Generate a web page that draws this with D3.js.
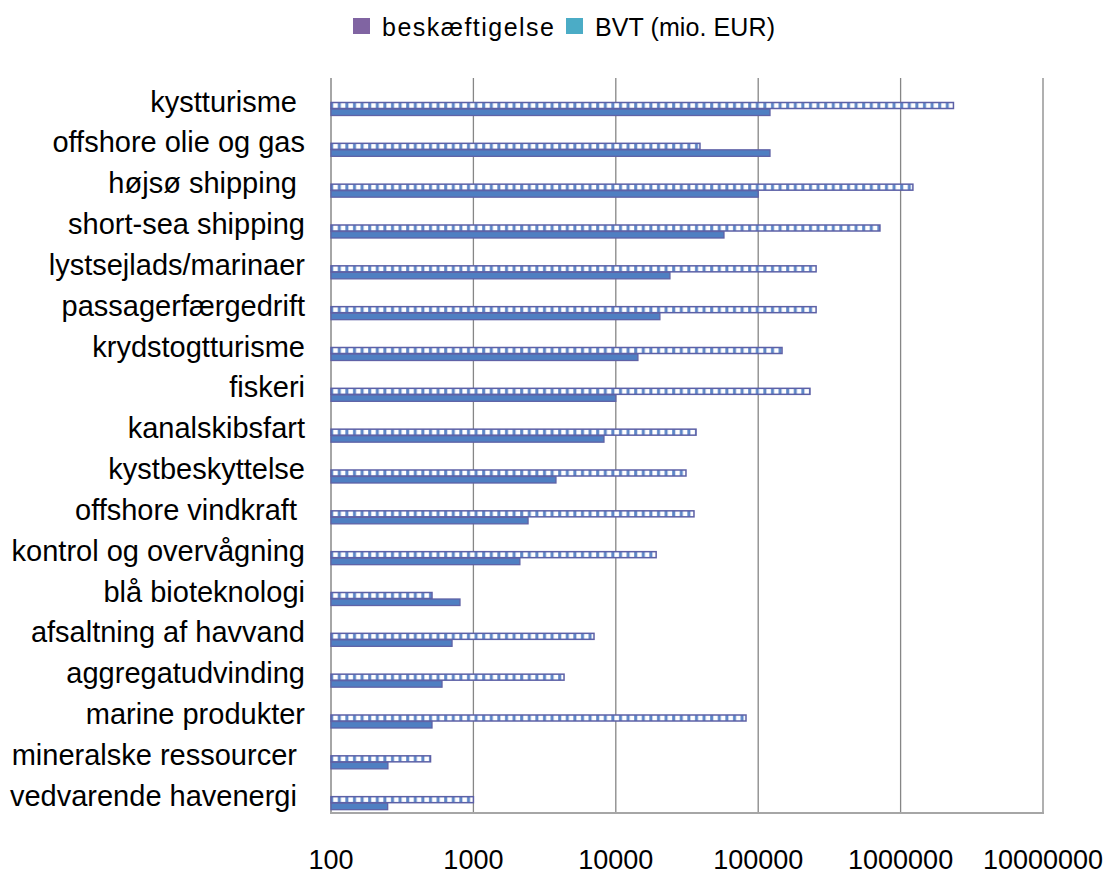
<!DOCTYPE html>
<html>
<head>
<meta charset="utf-8">
<script src="https://cdn.jsdelivr.net/npm/d3@7"></script>
<style>
  body { margin: 0; background: #fff; }
  svg text { font-family: "Liberation Sans", Arial, sans-serif; white-space: pre; fill: #000; }
</style>
</head>
<body>
<div class="chart"></div>
<script>
var categories = [
  "kystturisme ", "offshore olie og gas", "højsø shipping ", "short-sea shipping",
  "lystsejlads/marinaer", "passagerfærgedrift", "krydstogtturisme", "fiskeri",
  "kanalskibsfart", "kystbeskyttelse", "offshore vindkraft ", "kontrol og overvågning",
  "blå bioteknologi", "afsaltning af havvand", "aggregatudvinding", "marine produkter",
  "mineralske ressourcer ", "vedvarende havenergi "
];

// beskæftigelse (hatched bars)
var beskaeftigelse = [
  2350000, 39000, 1220000, 716000, 255000, 255000, 147000, 231000, 36600,
  31100, 35400, 19200, 512, 7030, 4330, 82100, 500, 1000
];

// BVT i mio. EUR (solid bars)
var bvt = [
  121000, 121000, 100000, 57500, 24000, 20400, 14300, 10000, 8260,
  3800, 2420, 2120, 805, 708, 602, 512, 251, 250
];

var seriesNames = ["beskæftigelse", "BVT (mio. EUR)"];
var legendColors = ["#8064A2", "#4BACC6"];
var tickValues = [100, 1000, 10000, 100000, 1000000, 10000000];

var width = 1110,
    height = 876;

var svg = d3.select(".chart").append("svg")
    .attr("width", width)
    .attr("height", height);

var x = d3.scaleLog()
    .domain([100, 10000000])
    .range([331, 1043]);

var y = d3.scaleBand()
    .domain(categories)
    .range([78, 813]);

var ySub = d3.scaleBand()
    .domain(seriesNames)
    .range([24.5, 37.5]);

// hatch pattern for the employment bars
var defs = svg.append("defs");
var pat = defs.append("pattern")
    .attr("id", "hatch")
    .attr("patternUnits", "userSpaceOnUse")
    .attr("x", 331)
    .attr("y", 0)
    .attr("width", 7.6)
    .attr("height", 876);
pat.append("rect")
    .attr("width", 7.6)
    .attr("height", 876)
    .attr("fill", "#5d86c8");
pat.append("rect")
    .attr("x", 2.2)
    .attr("width", 4.6)
    .attr("height", 876)
    .attr("fill", "#ffffff");

// gridlines
svg.append("g")
    .attr("class", "grid")
    .selectAll("line")
    .data(tickValues.slice(1))
    .enter()
    .append("line")
    .attr("x1", function(d){ return x(d); })
    .attr("x2", function(d){ return x(d); })
    .attr("y1", 78)
    .attr("y2", 813)
    .attr("stroke", "#868686")
    .attr("stroke-width", 1.3);

// axis lines
svg.append("line")
    .attr("x1", 331).attr("x2", 331)
    .attr("y1", 78).attr("y2", 814)
    .attr("stroke", "#a6a6a6")
    .attr("stroke-width", 2);
svg.append("line")
    .attr("x1", 330).attr("x2", 1044)
    .attr("y1", 813).attr("y2", 813)
    .attr("stroke", "#a6a6a6")
    .attr("stroke-width", 2);

// bars
var rows = svg.append("g")
    .attr("class", "bars")
    .selectAll("g")
    .data(categories)
    .enter()
    .append("g")
    .attr("transform", function(d){ return "translate(0," + y(d) + ")"; });

rows.append("rect")
    .attr("x", x(100))
    .attr("y", ySub(seriesNames[0]))
    .attr("height", ySub.bandwidth() - 0.5)
    .attr("width", function(d, i){ return x(beskaeftigelse[i]) - x(100); })
    .attr("fill", "url(#hatch)")
    .attr("stroke", "#5c60a6")
    .attr("stroke-width", 1.5);

rows.append("rect")
    .attr("x", x(100))
    .attr("y", ySub(seriesNames[1]))
    .attr("height", ySub.bandwidth())
    .attr("width", function(d, i){ return x(bvt[i]) - x(100); })
    .attr("fill", "#4f7fc2")
    .attr("stroke", "#5f62a6")
    .attr("stroke-width", 1.3);

// category labels
svg.append("g")
    .attr("class", "labels")
    .selectAll("text")
    .data(categories)
    .enter()
    .append("text")
    .attr("x", 305)
    .attr("y", function(d){ return y(d) + 33.5; })
    .attr("text-anchor", "end")
    .style("font-size", "29px")
    .text(function(d){ return d; });

// x tick labels
var fmt = d3.format("d");
svg.append("g")
    .attr("class", "ticks")
    .selectAll("text")
    .data(tickValues)
    .enter()
    .append("text")
    .attr("x", function(d){ return x(d); })
    .attr("y", 869)
    .attr("text-anchor", "middle")
    .style("font-size", "27px")
    .text(function(d){ return fmt(d); });

// legend
var legendX = [353, 566];
var legendW = [172, 180];
var legend = svg.append("g")
    .attr("class", "legend")
    .selectAll("g")
    .data(seriesNames)
    .enter()
    .append("g")
    .attr("transform", function(d, i){ return "translate(" + legendX[i] + ",0)"; });

legend.append("rect")
    .attr("x", 0)
    .attr("y", 18)
    .attr("width", 17)
    .attr("height", 16)
    .attr("fill", function(d, i){ return legendColors[i]; });

legend.append("text")
    .attr("x", 29)
    .attr("y", 36)
    .attr("textLength", function(d, i){ return legendW[i]; })
    .attr("lengthAdjust", "spacing")
    .style("font-size", "25px")
    .text(function(d){ return d; });
</script>
</body>
</html>
